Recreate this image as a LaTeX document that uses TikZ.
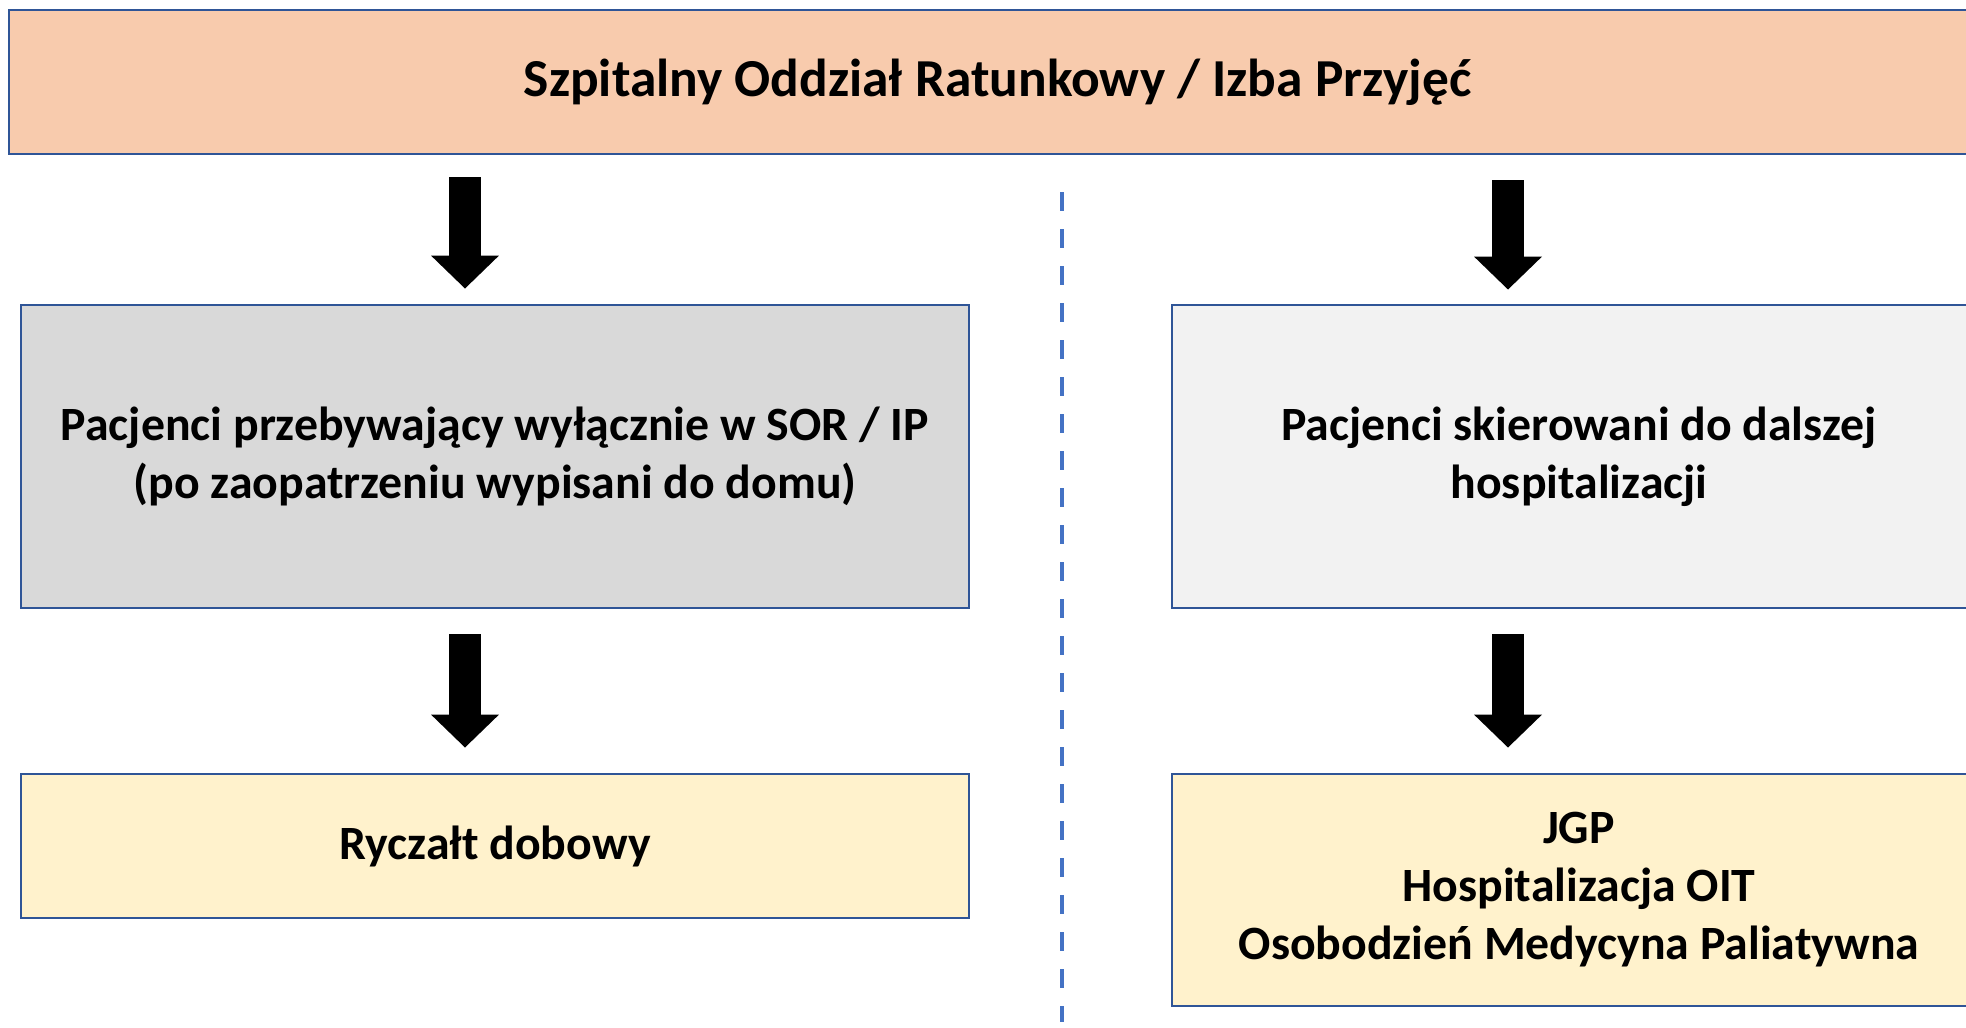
\documentclass[tikz,border=0pt]{standalone}
\usepackage{fontspec}
\setmainfont{Carlito}
\usetikzlibrary{arrows.meta}
\definecolor{sBlue}{HTML}{2F5597}
\definecolor{sDash}{HTML}{4472C4}
\definecolor{sOrange}{HTML}{F8CBAD}
\definecolor{sGray}{HTML}{D9D9D9}
\definecolor{sLight}{HTML}{F2F2F2}
\definecolor{sYellow}{HTML}{FFF2CC}

\begin{document}
\begin{tikzpicture}[yscale=-1]
		\tikzstyle{BOX} = [draw=sBlue, line width=1.6pt, align=center, inner sep=0pt, font=\bfseries\fontsize{27.2}{33}\selectfont]
		\tikzstyle{head} = [BOX, fill=sOrange, minimum width=39.54cm, minimum height=2.88cm, font=\bfseries\fontsize{30.4}{36}\selectfont]
		\tikzstyle{stay} = [BOX, fill=sGray, minimum width=18.96cm, minimum height=6.06cm]
		\tikzstyle{hosp} = [BOX, fill=sLight, minimum width=16.28cm, minimum height=6.06cm]
		\tikzstyle{pay} = [BOX, fill=sYellow]
		\tikzstyle{blk} = [line width=0.64cm, -{Triangle[width=1.32cm, length=0.66cm]}]
		\tikzstyle{split} = [sDash, line width=1.8pt, dash pattern=on 0.38cm off 0.36cm]

		\useasboundingbox (0,0) rectangle (39.32,20.54);

		\node[head] (sor) at		(19.95, 1.64) {Szpitalny Oddział Ratunkowy / Izba Przyjęć};
		\node[stay] (pOne) at		(9.9, 9.13) {Pacjenci przebywający wyłącznie w SOR / IP\\(po zaopatrzeniu wypisani do domu)};
		\node[hosp] (pTwo) at		(31.58, 9.13) {Pacjenci skierowani do dalszej\\hospitalizacji};
		\node[pay, minimum width=18.96cm, minimum height=2.88cm] (rOne) at	(9.9, 16.92) {Ryczałt dobowy};
		\node[pay, minimum width=16.28cm, minimum height=4.64cm] (rTwo) at	(31.58, 17.8) {JGP\\Hospitalizacja OIT\\Osobodzień Medycyna Paliatywna};

		\coordinate (cL) at (9.3, 0);
		\coordinate (cR) at (30.16, 0);
		\coordinate (dTop) at (21.24, 3.84);
		\coordinate (dBot) at (21.24, 20.44);

		\draw[blk, shorten <=0.44cm, shorten >=0.3cm] (sor.south -| cL) -- (pOne.north -| cL);
		\draw[blk, shorten <=0.5cm, shorten >=0.28cm] (sor.south -| cR) -- (pTwo.north -| cR);
		\draw[blk, shorten <=0.5cm, shorten >=0.5cm] (pOne.south -| cL) -- (rOne.north -| cL);
		\draw[blk, shorten <=0.5cm, shorten >=0.5cm] (pTwo.south -| cR) -- (rTwo.north -| cR);
		\draw[split] (dTop) -- (dBot);
\end{tikzpicture}
\end{document}
